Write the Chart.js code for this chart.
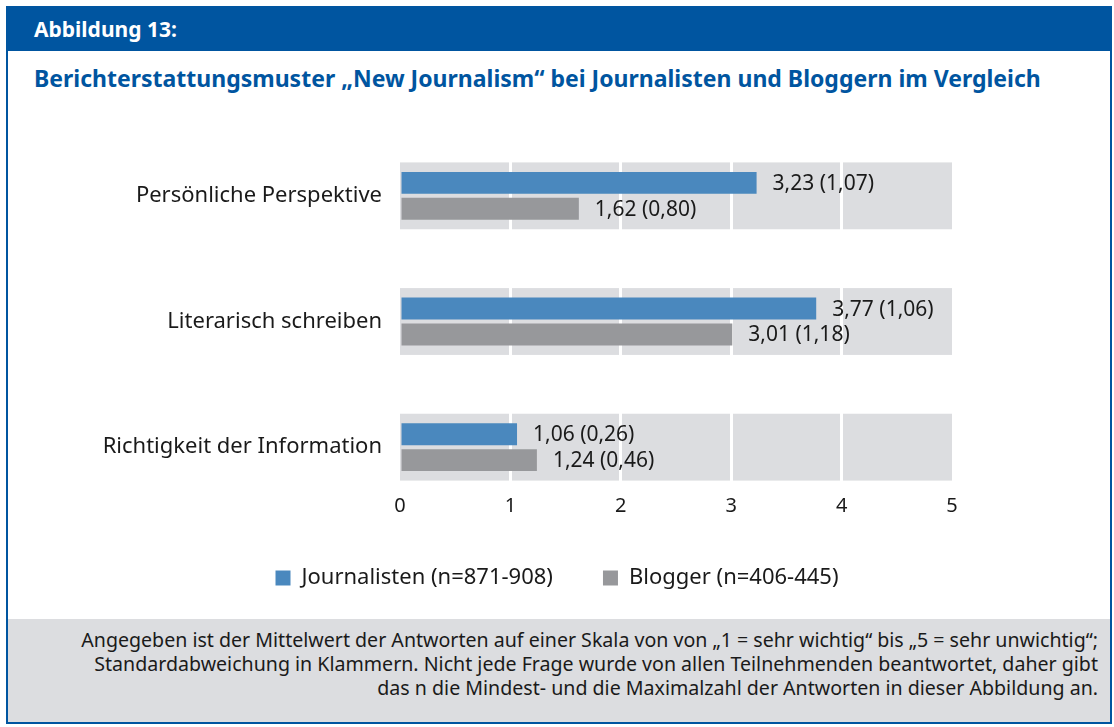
<!DOCTYPE html>
<html>
<head>
<meta charset="utf-8">
<script src="https://cdn.jsdelivr.net/npm/chart.js@4"></script>
<style>
  body { margin: 0; background: #fff; width: 1114px; height: 727px; position: relative; overflow: hidden; font-family: "Noto Sans", sans-serif; }
  #frame { position: absolute; left: 6px; top: 6px; width: 1102px; height: 716px; border: 2px solid #0055a0; border-top: none; }
  #head { position: absolute; left: 6px; top: 6px; width: 1106px; height: 45px; background: #0055a0; color: #fff; font-weight: bold; font-size: 21px; line-height: 47px; }
  #head span { margin-left: 28px; }
  #title { position: absolute; left: 34px; top: 62px; color: #0055a0; font-weight: bold; font-size: 23px; white-space: nowrap; }
  #chart { position: absolute; left: 0; top: 0; }
  #note { position: absolute; left: 8px; top: 619px; width: 1090px; height: 103px; background: #dcdde0; padding-right: 12px;
          text-align: right; font-size: 19.6px; line-height: 24px; color: #1a1a1a; box-sizing: content-box; white-space: nowrap; }
  #note div { padding-top: 9px; }
</style>
</head>
<body>
<div id="frame"></div>
<div id="head"><span>Abbildung 13:</span></div>
<div id="title">Berichterstattungsmuster „New Journalism“ bei Journalisten und Bloggern im Vergleich</div>
<canvas id="chart" width="1114" height="599"></canvas>
<div id="note"><div>Angegeben ist der Mittelwert der Antworten auf einer Skala von von „1 = sehr wichtig“ bis „5 = sehr unwichtig“;<br>Standardabweichung in Klammern. Nicht jede Frage wurde von allen Teilnehmenden beantwortet, daher gibt<br>das n die Mindest- und die Maximalzahl der Antworten in dieser Abbildung an.</div></div>
<script>
const categories = ["Persönliche Perspektive", "Literarisch schreiben", "Richtigkeit der Information"];
const journalistenMean = [3.23, 3.77, 1.06];
const journalistenSD = [1.07, 1.06, 0.26];
const bloggerMean = [1.62, 3.01, 1.24];
const bloggerSD = [0.80, 1.18, 0.46];
const seriesNames = ["Journalisten (n=871-908)", "Blogger (n=406-445)"];
const xTicks = [0, 1, 2, 3, 4, 5];

const fmt = (v) => v.toFixed(2).replace(".", ",");

// grey band behind each category
const bandPlugin = {
  id: "bands",
  beforeDraw(chart) {
    const { ctx } = chart;
    const x = chart.scales.x;
    const y = chart.scales.y;
    const step = y.getPixelForValue(1) - y.getPixelForValue(0);
    const half = step * 0.266;
    const left = x.getPixelForValue(xTicks[0]);
    const right = x.getPixelForValue(xTicks[xTicks.length - 1]);
    ctx.save();
    ctx.fillStyle = "#dcdde0";
    categories.forEach((c, i) => {
      const yc = y.getPixelForValue(i);
      ctx.fillRect(left, yc - half, right - left, half * 2);
    });
    ctx.restore();
  },
};

// "mean (sd)" next to each bar
const valuePlugin = {
  id: "values",
  afterDatasetsDraw(chart) {
    const { ctx } = chart;
    const sds = [journalistenSD, bloggerSD];
    ctx.save();
    ctx.font = "21px 'Noto Sans'";
    ctx.fillStyle = "#1a1a1a";
    ctx.textBaseline = "middle";
    ctx.textAlign = "left";
    chart.data.datasets.forEach((ds, d) => {
      chart.getDatasetMeta(d).data.forEach((bar, i) => {
        ctx.fillText(fmt(ds.data[i]) + " (" + fmt(sds[d][i]) + ")", bar.x + 16, bar.y + 1);
      });
    });
    ctx.restore();
  },
};

new Chart(document.getElementById("chart"), {
  type: "bar",
  data: {
    labels: categories,
    datasets: [
      {
        label: seriesNames[0],
        data: journalistenMean,
        backgroundColor: "#4a88be",
        categoryPercentage: 0.413,
        barPercentage: 0.846,
      },
      {
        label: seriesNames[1],
        data: bloggerMean,
        backgroundColor: "#97989b",
        categoryPercentage: 0.413,
        barPercentage: 0.846,
      },
    ],
  },
  options: {
    indexAxis: "y",
    responsive: false,
    animation: false,
    devicePixelRatio: 1,
    layout: { padding: { top: 133, left: 0, right: 0, bottom: 0 } },
    scales: {
      x: {
        min: 0,
        max: 5,
        afterBuildTicks: (scale) => {
          scale.ticks = xTicks.map((v) => ({ value: v }));
        },
        afterFit: (scale) => {
          scale.height = 7;
        },
        border: { display: false },
        grid: {
          drawTicks: false,
          lineWidth: 3,
          color: (c) => (c.tick && c.tick.value > 0 && c.tick.value < 5 ? "#ffffff" : "rgba(0,0,0,0)"),
        },
        ticks: {
          mirror: true, // no label clipping, labels sit just above the axis line
          padding: -8,
          color: "#1a1a1a",
          font: { family: "Noto Sans", size: 20 },
        },
      },
      y: {
        afterFit: (scale) => {
          scale.width = 400;
        },
        border: { display: false },
        grid: { display: false, drawTicks: false },
        ticks: {
          padding: 18,
          color: "#1a1a1a",
          font: { family: "Noto Sans", size: 22 },
        },
      },
      // empty right axis, only keeps space so the legend is centred on the page
      spacer: {
        type: "linear",
        position: "right",
        afterFit: (scale) => {
          scale.width = 162;
        },
        border: { display: false },
        grid: { display: false, drawTicks: false },
        ticks: { display: false },
      },
    },
    plugins: {
      legend: {
        position: "bottom",
        labels: {
          boxWidth: 15,
          boxHeight: 15,
          padding: 50,
          color: "#1a1a1a",
          font: { family: "Noto Sans", size: 22 },
        },
      },
      tooltip: { enabled: false },
    },
  },
  plugins: [bandPlugin, valuePlugin],
});
</script>
</body>
</html>
